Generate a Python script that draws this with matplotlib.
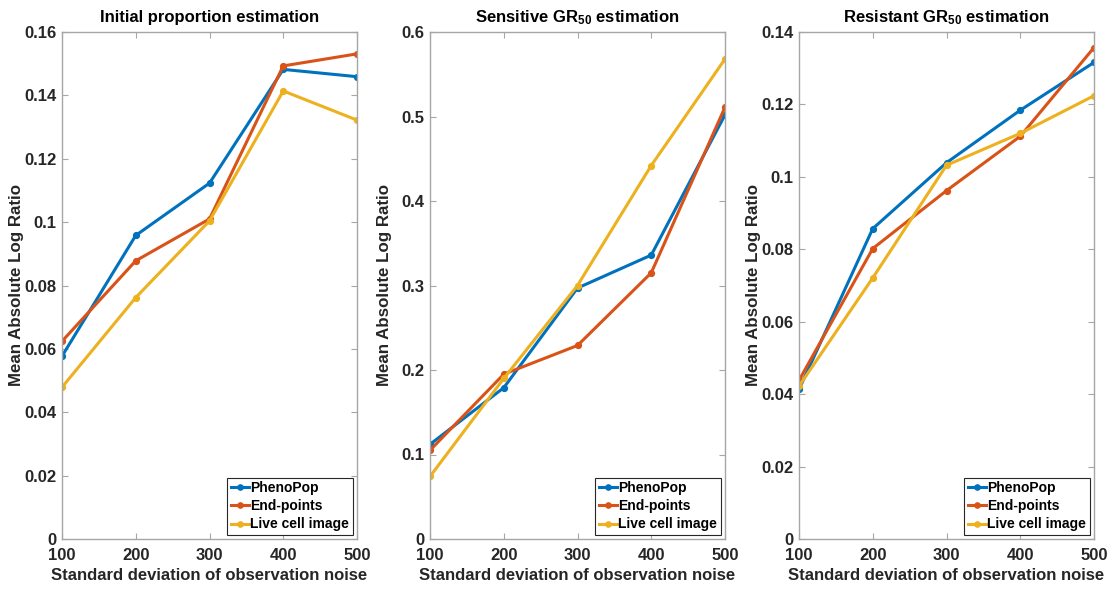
import numpy as np
import matplotlib.pyplot as plt

# noise levels on the x axis
noise = [100, 200, 300, 400, 500]

# initial proportion
prop_phenopop = [0.0577, 0.0958, 0.1123, 0.1482, 0.1459]
prop_endpoints = [0.0624, 0.0878, 0.1010, 0.1493, 0.1531]
prop_livecell = [0.0479, 0.0762, 0.1004, 0.1414, 0.1322]

# sensitive GR50
sens_phenopop = [0.112, 0.179, 0.297, 0.336, 0.502]
sens_endpoints = [0.105, 0.195, 0.229, 0.315, 0.511]
sens_livecell = [0.074, 0.190, 0.300, 0.442, 0.568]

# resistant GR50
res_phenopop = [0.0413, 0.0857, 0.1039, 0.1184, 0.1316]
res_endpoints = [0.0438, 0.0802, 0.0962, 0.1112, 0.1357]
res_livecell = [0.0422, 0.0721, 0.1032, 0.1120, 0.1224]

methods = ["PhenoPop", "End-points", "Live cell image"]
colors = ["#0072BD", "#D95319", "#EDB120"]

titles = ["Initial proportion estimation",
          "Sensitive GR$_{\\mathbf{50}}$ estimation",
          "Resistant GR$_{\\mathbf{50}}$ estimation"]
panels = [
    (prop_phenopop, prop_endpoints, prop_livecell),
    (sens_phenopop, sens_endpoints, sens_livecell),
    (res_phenopop, res_endpoints, res_livecell),
]
ylims = [(0, 0.16, 0.02), (0, 0.6, 0.1), (0, 0.14, 0.02)]

plt.rcParams["font.family"] = ["Liberation Sans", "DejaVu Sans"]
plt.rcParams["font.weight"] = "bold"
plt.rcParams["mathtext.fontset"] = "custom"
plt.rcParams["mathtext.bf"] = "Liberation Sans:bold"
plt.rcParams["mathtext.rm"] = "Liberation Sans:bold"
plt.rcParams["mathtext.default"] = "bf"

text_col = "#262626"
frame_col = "#a6a6a6"

fig = plt.figure(figsize=(11.13, 5.90), dpi=100)
lefts = [62, 430, 799]
W, H = 1113, 590
ax_w, ax_h = 295, 507

for i, (series, title, (lo, hi, step)) in enumerate(zip(panels, titles, ylims)):
    ax = fig.add_axes([lefts[i] / W, (H - 539) / H, ax_w / W, ax_h / H])
    for vals, name, c in zip(series, methods, colors):
        ax.plot(noise, vals, color=c, lw=2.2, marker="o", ms=4.2, label=name)
    ax.set_xlim(100, 500)
    ax.set_ylim(lo, hi)
    ax.set_xticks(noise)
    yt = np.arange(lo, hi + step / 2, step)
    ax.set_yticks(yt)
    ax.set_yticklabels([f"{round(v, 3):g}" for v in yt])
    ax.tick_params(direction="in", top=True, right=True, length=4,
                   color=frame_col, labelsize=12, labelcolor=text_col)
    ax.tick_params(axis="x", pad=6.5)
    ax.tick_params(axis="y", pad=4)
    for sp in ax.spines.values():
        sp.set_color(frame_col)
        sp.set_linewidth(1.0)
    ax.set_title(title, fontsize=12, fontweight="bold", color="black", pad=7)
    ax.set_xlabel("Standard deviation of observation noise", fontsize=12,
                  fontweight="bold", color=text_col, labelpad=3.5)
    ax.set_ylabel("Mean Absolute Log Ratio", fontsize=12.2,
                  fontweight="bold", color=text_col)
    # same label offset on every panel, whatever the tick label width
    ax.yaxis.set_label_coords(-38 / ax_w, 0.5)
    leg = ax.legend(loc="lower right", fontsize=10, frameon=True, fancybox=False,
                    handlelength=1.3, handletextpad=0.12, borderpad=0.25,
                    labelspacing=0.3, borderaxespad=0.3, markerscale=0.9)
    leg.get_frame().set_edgecolor("#262626")
    leg.get_frame().set_linewidth(0.8)
    leg.get_frame().set_alpha(1.0)
    for t in leg.get_texts():
        t.set_color("black")

fig.savefig("out.png", dpi=100)
